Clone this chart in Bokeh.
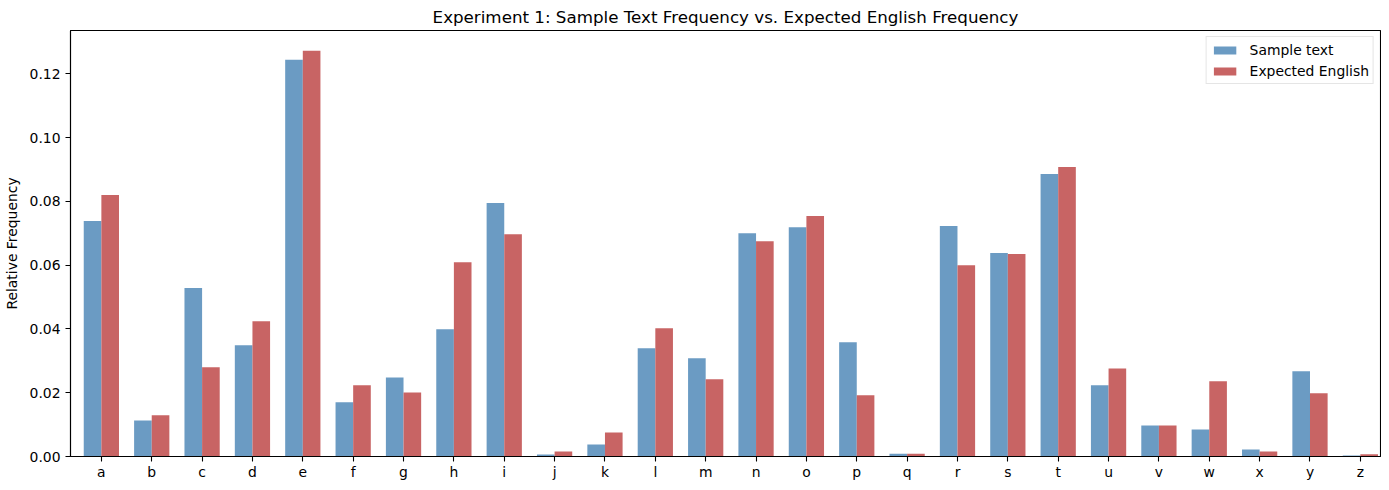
from bokeh.plotting import figure
from bokeh.models import ColumnDataSource, Range1d, FixedTicker, PrintfTickFormatter
from bokeh.transform import dodge
from bokeh.embed import file_html
from bokeh.resources import INLINE

letters = list("abcdefghijklmnopqrstuvwxyz")
sample = [0.0738, 0.0113, 0.0528, 0.0349, 0.1244, 0.0170, 0.0248, 0.0399, 0.0795, 0.0006,
          0.0038, 0.0339, 0.0308, 0.0700, 0.0719, 0.0358, 0.0009, 0.0723, 0.0638, 0.0886,
          0.0223, 0.0097, 0.0085, 0.0022, 0.0267, 0.0003]
expected = [0.0820, 0.0129, 0.0280, 0.0424, 0.1272, 0.0223, 0.0201, 0.0609, 0.0697, 0.0016,
            0.0075, 0.0402, 0.0242, 0.0675, 0.0754, 0.0192, 0.0009, 0.0600, 0.0635, 0.0908,
            0.0276, 0.0097, 0.0236, 0.0016, 0.0198, 0.0007]
y_ticks = [0.00, 0.02, 0.04, 0.06, 0.08, 0.10, 0.12]

idx = list(range(len(letters)))
src = ColumnDataSource(dict(idx=idx, letter=letters, sample=sample, expected=expected))

FONT = "DejaVu Sans"
bw = 0.35

p = figure(frame_width=1310, frame_height=426, output_backend="svg", toolbar_location=None,
           x_range=Range1d(-0.613, 25.40), y_range=Range1d(0, max(expected) * 1.05),
           min_border_left=62, min_border_right=1, min_border_top=25, min_border_bottom=22,
           title="Experiment 1: Sample Text Frequency vs. Expected English Frequency")

p.vbar(x=dodge("idx", -bw / 2), top="sample", width=bw, source=src,
       fill_color="#4682b4", fill_alpha=0.8, line_color=None, legend_label="Sample text")
p.vbar(x=dodge("idx", bw / 2), top="expected", width=bw, source=src,
       fill_color="#c86464", fill_alpha=1.0, line_color=None, legend_label="Expected English")

p.title.align = "center"
p.title.text_font = FONT
p.title.text_font_size = "16.7px"
p.title.text_font_style = "normal"
p.title.text_color = "black"
p.title.standoff = 8
p.title.offset = 0

p.xgrid.visible = False
p.ygrid.visible = False
p.outline_line_color = "black"
p.outline_line_width = 1.1
p.outline_line_alpha = 1.0

p.xaxis.ticker = FixedTicker(ticks=idx)
p.xaxis.major_label_overrides = {i: l for i, l in zip(idx, letters)}
p.yaxis.ticker = FixedTicker(ticks=y_ticks)
p.yaxis.formatter = PrintfTickFormatter(format="%.2f")
p.yaxis.axis_label = "Relative Frequency"

for ax in (p.xaxis[0], p.yaxis[0]):
    ax.axis_line_color = "black"
    ax.axis_line_width = 1.1
    ax.major_tick_line_color = "black"
    ax.major_tick_line_width = 1.1
    ax.major_tick_out = 5
    ax.major_tick_in = 0
    ax.minor_tick_line_color = None
    ax.major_label_text_font = FONT
    ax.major_label_text_font_size = "13.9px"
    ax.major_label_text_color = "black"
    ax.major_label_standoff = 5
    ax.axis_label_text_font = FONT
    ax.axis_label_text_font_size = "13.9px"
    ax.axis_label_text_font_style = "normal"
    ax.axis_label_text_color = "black"
    ax.axis_label_standoff = 7
p.xaxis[0].major_label_standoff = 2

lg = p.legend[0]
lg.location = "top_right"
lg.label_text_font = FONT
lg.label_text_font_size = "13.9px"
lg.label_text_color = "black"
lg.glyph_width = 28
lg.glyph_height = 10
lg.label_height = 17
lg.label_standoff = 11
lg.spacing = 4
lg.padding = 4
lg.margin = 6
lg.border_line_color = "#cccccc"
lg.border_line_width = 1
lg.background_fill_alpha = 0.8

open("out.html", "w").write(file_html(p, INLINE))
